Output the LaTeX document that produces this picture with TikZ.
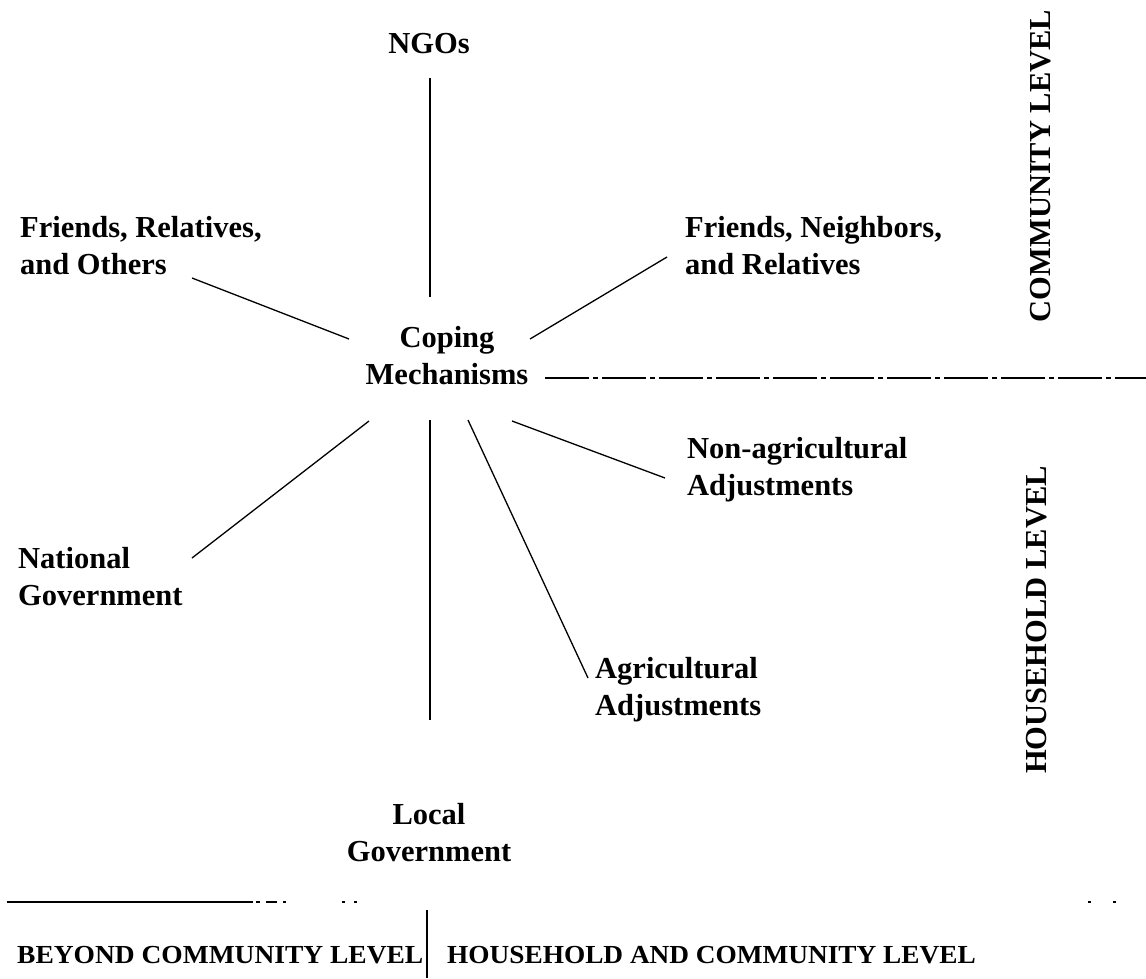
\documentclass[tikz,border=0pt]{standalone}
\usepackage{fontspec}
\setmainfont{Liberation Serif}
\usepackage{graphicx}
\begin{document}
\begin{tikzpicture}[x=1pt,y=-1pt,
  lbl/.style={inner sep=0pt, font=\fontsize{30.5}{37}\selectfont\bfseries},
  lblw/.style={lbl, anchor=base west},
  lblc/.style={lbl, anchor=base},
  rot/.style={inner sep=0pt, rotate=90, font=\fontsize{30.5}{37}\selectfont\bfseries},
  foot/.style={inner sep=0pt, anchor=base west, font=\fontsize{26}{30}\selectfont\bfseries},
  link/.style={line width=1.3pt},
  axis/.style={line width=2pt},
  speck/.style={line width=2pt}]
\useasboundingbox[fill=white] (0,0) rectangle (1146,978);

% labels
\node[lblc] (ngo) at (429,53) {NGOs};
\node[lblw] (fro) at (20,237) {\begin{tabular}[t]{@{}l@{}}Friends, Relatives,\\and Others\end{tabular}};
\node[lblw] (fnr) at (685,237) {\begin{tabular}[t]{@{}l@{}}Friends, Neighbors,\\and Relatives\end{tabular}};
\node[lblc] (cm) at (447,347) {\begin{tabular}[t]{@{}c@{}}Coping\\Mechanisms\end{tabular}};
\node[lblw] (na) at (687,458) {\begin{tabular}[t]{@{}l@{}}Non-agricultural\\Adjustments\end{tabular}};
\node[lblw] (ng) at (18,568) {\begin{tabular}[t]{@{}l@{}}National\\Government\end{tabular}};
\node[lblw] (aa) at (595,678) {\begin{tabular}[t]{@{}l@{}}Agricultural\\Adjustments\end{tabular}};
\node[lblc] (lg) at (429,824) {\begin{tabular}[t]{@{}c@{}}Local\\Government\end{tabular}};
\node[rot] (cl) at (1041,166) {COMMUNITY LEVEL};
\node[rot] (hl) at (1037,620) {HOUSEHOLD LEVEL};
\node[foot] (bcl) at (17,963) {\scalebox{1.057}[1]{BEYOND COMMUNITY LEVEL}};
\node[foot] (hcl) at (447,963) {\scalebox{1.05}[1]{HOUSEHOLD AND COMMUNITY LEVEL}};

% connector end points
\coordinate (ngo-a) at (430,78);   \coordinate (ngo-b) at (430,297);
\coordinate (fro-a) at (192,278);  \coordinate (fro-b) at (349,339);
\coordinate (fnr-a) at (667,257);  \coordinate (fnr-b) at (530,339);
\coordinate (ng-a)  at (192,558);  \coordinate (ng-b)  at (369,421);
\coordinate (lg-a)  at (430,420);  \coordinate (lg-b)  at (430,720);
\coordinate (aa-a)  at (468,420);  \coordinate (aa-b)  at (588,678);
\coordinate (na-a)  at (512,421);  \coordinate (na-b)  at (665,478);
\coordinate (div-a) at (545,378);  \coordinate (div-b) at (1146,378);
\coordinate (bl-a)  at (7,902);    \coordinate (bl-b)  at (253,902);
\coordinate (bv-a)  at (427,910);  \coordinate (bv-b)  at (427,978);

\draw[link] (ngo-a) -- (ngo-b);
\draw[link] (fro-a) -- (fro-b);
\draw[link] (fnr-a) -- (fnr-b);
\draw[link] (ng-a) -- (ng-b);
\draw[link] (lg-a) -- (lg-b);
\draw[link] (aa-a) -- (aa-b);
\draw[link] (na-a) -- (na-b);
\draw[line width=2pt, dash pattern=on 44pt off 4pt on 5pt off 4pt] (div-a) -- (div-b);
\draw[line width=2.6pt] (bl-a) -- (bl-b);
% broken remainder of the bottom rule
\draw[speck] (256,902) -- (260,902);
\draw[speck] (266,902) -- (277,902);
\draw[speck] (283,902) -- (286,902);
\draw[speck] (342,902) -- (345,902);
\draw[speck] (354,902) -- (357,902);
\draw[speck] (1088,902) -- (1091,902);
\draw[speck] (1113,902) -- (1116,902);
\draw[axis] (bv-a) -- (bv-b);
\end{tikzpicture}
\end{document}
